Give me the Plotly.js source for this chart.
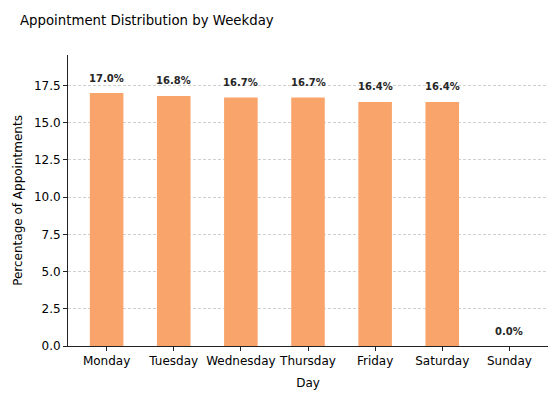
<!DOCTYPE html>
<html>
<head>
<meta charset="utf-8">
<script src="https://cdn.plot.ly/plotly-3.0.1.min.js"></script>
<style>html,body{margin:0;padding:0;background:#fff;}#chart{width:560px;height:400px;}</style>
</head>
<body>
<div id="chart"></div>
<script>
const days = ["Monday", "Tuesday", "Wednesday", "Thursday", "Friday", "Saturday", "Sunday"];
const percentages = [17.0, 16.8, 16.7, 16.7, 16.4, 16.4, 0.0];
const yTicks = [0, 2.5, 5, 7.5, 10, 12.5, 15, 17.5];
const yTickLabels = ["0.0", "2.5", "5.0", "7.5", "10.0", "12.5", "15.0", "17.5"];

const font = "DejaVu Sans, Liberation Sans, sans-serif";
const trace = {
  type: "bar",
  x: days,
  y: percentages,
  width: 0.5,
  marker: {color: "#f9a46a", line: {width: 0}},
  hoverinfo: "none"
};
const annotations = days.map((d, i) => ({
  x: d, y: percentages[i] + 0.5, xref: "x", yref: "y",
  text: "<b>" + percentages[i].toFixed(1) + "%</b>",
  showarrow: false, yanchor: "bottom", xanchor: "center",
  font: {family: font, size: 10, color: "#262626"}
}));
const layout = {
  width: 560, height: 400,
  margin: {l: 68, r: 12, t: 55, b: 54},
  paper_bgcolor: "#fff", plot_bgcolor: "#fff",
  font: {family: font, color: "#000"},
  title: {text: "Appointment Distribution by Weekday", x: 20/560, xanchor: "left", xref: "container", y: 1 - 20/400, yanchor: "middle", yref: "container", font: {family: font, size: 13.3, color: "#000"}},
  xaxis: {
    range: [-0.575, 6.575], type: "category",
    showline: true, linecolor: "#222", linewidth: 1,
    ticks: "outside", ticklen: 4, tickcolor: "#222",
    tickfont: {family: font, size: 12, color: "#000"},
    showgrid: false, zeroline: false,
    title: {text: "Day", font: {family: font, size: 12, color: "#000"}, standoff: 11}
  },
  yaxis: {
    range: [0, 19.55],
    tickvals: yTicks, ticktext: yTickLabels,
    showline: true, linecolor: "#222", linewidth: 1,
    ticks: "outside", ticklen: 4, tickcolor: "#222",
    tickfont: {family: font, size: 12, color: "#000"},
    showgrid: true, gridcolor: "#d0d0d0", griddash: "3px,2px", gridwidth: 1,
    zeroline: false,
    title: {text: "Percentage of Appointments", font: {family: font, size: 12, color: "#000"}, standoff: 8}
  },
  annotations: annotations,
  showlegend: false
};
Plotly.newPlot("chart", [trace], layout, {displayModeBar: false, staticPlot: true});
</script>
</body>
</html>
